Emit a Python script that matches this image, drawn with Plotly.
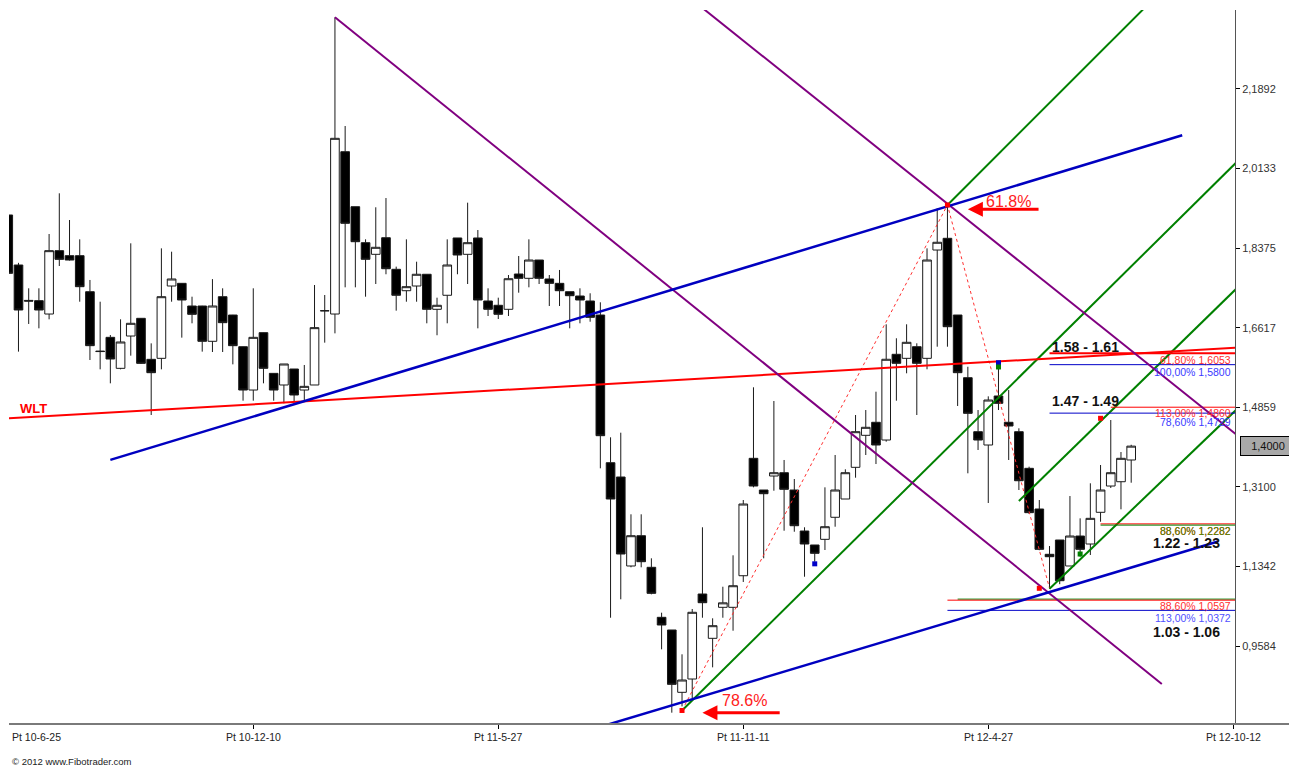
import plotly.graph_objects as go
import pandas as pd

# ---------------- data ----------------
start_date = "2010-06-25"
n_weeks = 111
dates = pd.date_range(start_date, periods=n_weeks, freq="7D")

opens = [1.9107,1.8002,1.7220,1.7214,1.6919,1.8319,1.8208,1.8208,1.7412,1.6100,
         1.6404,1.5719,1.6433,1.6824,1.5918,1.5940,1.7538,1.7597,1.7096,1.7096,
         1.6316,1.7302,1.6897,1.6197,1.5240,1.6507,1.5608,1.5351,1.5704,1.5240,
         1.5351,1.6993,1.6919,2.0505,1.9290,1.8495,1.8238,1.8605,1.7907,1.7434,
         1.7538,1.7797,1.7023,1.7333,1.8599,1.8238,1.8599,1.7207,1.7112,1.7023,
         1.7803,1.7708,1.8112,1.7693,1.7597,1.7412,1.7317,1.7207,1.6897,1.3634,
         1.3318,1.1352,1.2021,1.1323,1.0218,0.9938,0.8561,0.8855,1.0733,0.9754,
         1.0439,1.0439,1.1137,1.3731,1.3031,1.3340,1.3413,1.3031,1.2125,1.1816,
         1.1941,1.2428,1.2832,1.3532,1.4239,1.4527,1.4135,1.6029,1.5940,1.6197,
         1.5940,1.8333,1.8592,1.6897,1.5512,1.4319,1.4025,1.5108,1.4527,1.4319,
         1.3510,1.2611,1.1610,1.1926,1.1352,1.2014,1.1838,1.2538,1.3119,1.3214,
         1.3694]
highs = [1.9200,1.8050,1.7487,1.7487,1.8687,1.9586,1.8996,1.8569,1.7671,1.7191,
         1.6455,1.6802,1.8481,1.6830,1.6271,1.8370,1.8296,1.7600,1.7302,1.7100,
         1.7690,1.7487,1.6900,1.6200,1.7487,1.6510,1.5610,1.5815,1.5704,1.5793,
         1.7560,1.7339,2.3474,2.1073,1.9290,1.8569,1.9277,1.9482,1.7966,1.8569,
         1.8075,1.7797,1.7280,1.8569,1.8599,1.9379,1.8775,1.7487,1.7280,1.7781,
         1.8201,1.8569,1.8112,1.7781,1.7892,1.7412,1.7487,1.7377,1.7178,1.4195,
         1.4297,1.2494,1.2494,1.1522,1.0320,0.9938,0.9401,1.0402,1.2207,1.0196,
         1.0894,1.1588,1.2810,1.5300,1.3031,1.4997,1.3694,1.3274,1.2207,1.1816,
         1.3090,1.3804,1.3488,1.4688,1.4798,1.5203,1.6692,1.6383,1.6692,1.6272,
         1.8370,1.9255,1.9328,1.6897,1.5754,1.4798,1.5100,1.5866,1.5240,1.4394,
         1.3546,1.2810,1.1793,1.1926,1.2898,1.2405,1.3179,1.3583,1.4577,1.3870,
         1.4030]
lows = [1.7750,1.6088,1.6699,1.6603,1.6802,1.7980,1.8100,1.7191,1.5903,1.5697,
        1.5388,1.5697,1.5999,1.5815,1.4688,1.5697,1.7191,1.6397,1.6714,1.6088,
        1.6080,1.6080,1.5807,1.5004,1.5004,1.5388,1.5004,1.4946,1.4982,1.4982,
        1.5351,1.6286,1.6492,1.7509,1.7509,1.7302,1.7582,1.7797,1.6993,1.7191,
        1.7191,1.6714,1.6450,1.6714,1.7797,1.7582,1.6603,1.6875,1.6809,1.6875,
        1.7390,1.7509,1.7582,1.7096,1.7096,1.6603,1.6714,1.6749,1.3510,1.0209,
        1.0616,1.1323,1.1323,1.0726,0.9511,0.8111,0.8250,0.8428,1.0209,0.9113,
        1.0209,0.9922,1.0999,1.3090,1.1522,1.3015,1.2131,1.2109,1.1115,1.1447,
        1.1705,1.2220,1.2832,1.3303,1.3804,1.3605,1.4098,1.5004,1.5609,1.4688,
        1.5698,1.6197,1.6197,1.4887,1.3400,1.3915,1.2744,1.4798,1.3694,1.3031,
        1.2500,1.1700,1.0850,1.0950,1.1352,1.1557,1.1595,1.2330,1.3075,1.2604,
        1.3192]
closes = [1.7818,1.7008,1.7205,1.7008,1.8319,1.8127,1.8112,1.7523,1.6220,1.6090,
          1.5925,1.6301,1.6714,1.5829,1.5623,1.7302,1.7693,1.7229,1.6912,1.6316,
          1.7096,1.6728,1.6220,1.5240,1.6404,1.5719,1.5240,1.5815,1.5130,1.5321,
          1.6618,1.6990,2.0801,1.8923,1.8517,1.8128,1.8393,1.7920,1.7333,1.7523,
          1.7797,1.7023,1.7112,1.8002,1.8223,1.8495,1.7229,1.7023,1.6913,1.7699,
          1.7708,1.8112,1.7708,1.7597,1.7434,1.7324,1.7229,1.6846,1.4231,1.2832,
          1.1617,1.2021,1.1447,1.0748,1.0048,0.8737,0.8833,1.0329,1.0541,1.0033,
          1.0538,1.0916,1.2721,1.3119,1.2949,1.3413,1.3046,1.2242,1.1838,1.1632,
          1.2220,1.3031,1.3413,1.4319,1.4416,1.4025,1.5919,1.5830,1.6294,1.5830,
          1.8112,1.8504,1.6639,1.5623,1.4725,1.4135,1.5019,1.4946,1.4445,1.3236,
          1.2530,1.1720,1.1557,1.1027,1.2014,1.1720,1.2405,1.3031,1.3413,1.3731,
          1.4000]

# axis ticks
y_tickvals = [0.9584, 1.1342, 1.3100, 1.4859, 1.6617, 1.8375, 2.0133, 2.1892]
y_ticktext = ["0,9584", "1,1342", "1,3100", "1,4859", "1,6617", "1,8375", "2,0133", "2,1892"]
x_tickdates = ["2010-06-25", "2010-12-10", "2011-05-27", "2011-11-11", "2012-04-27", "2012-10-12"]
x_ticktext = ["Pt 10-6-25", "Pt 10-12-10", "Pt 11-5-27", "Pt 11-11-11", "Pt 12-4-27", "Pt 12-10-12"]

# drawn trend lines (date, price)
wlt_dates = ["2010-06-18", "2012-10-19"];           wlt_prices = [1.4600, 1.6183]
blue1_dates = ["2010-09-03", "2012-09-07"];         blue1_prices = [1.3697, 2.0868]
blue2_dates = ["2011-08-05", "2012-10-01 12:00"];   blue2_prices = [0.7799, 1.1893]
purple1_dates = ["2011-02-04", "2012-08-24"];       purple1_prices = [2.3475, 0.8744]
purple2_dates = ["2011-10-10 12:00", "2012-10-19"]; purple2_prices = [2.3771, 1.4129]
green1_dates = ["2011-09-30", "2012-10-19"];        green1_prices = [0.8160, 2.0424]
green2_dates = ["2012-03-30", "2012-08-17"];        green2_prices = [1.9328, 2.3838]
green3_dates = ["2012-05-18", "2012-10-19"];        green3_prices = [1.2786, 1.7633]
green4_dates = ["2012-06-08", "2012-10-19"];        green4_prices = [1.0848, 1.4956]
zigzag_dates = ["2011-09-30", "2012-03-30", "2012-06-08"]
zigzag_prices = [0.8160, 1.9328, 1.0860]

# fibonacci levels
level_prices = [1.6053, 1.5800, 1.4860, 1.4729, 1.2282, 1.2255, 1.0620, 1.0597, 1.0372]
level_starts = ["2012-06-08", "2012-06-08", "2012-07-20", "2012-06-08", "2012-07-13",
                "2012-07-13", "2012-04-06", "2012-03-30", "2012-03-30"]
level_colors = ["#ff0000", "#0000c8", "#ff0000", "#0000c8", "#ff0000",
                "#008000", "#008000", "#ff0000", "#0000c8"]
level_widths = [2, 1, 1, 1, 1, 1, 1, 1, 1]
level_end = "2012-10-19"

fib_label_text = ["61,80% 1,6053", "100,00% 1,5800", "113,00% 1,4860", "78,60% 1,4729",
                  "88,60% 1,2282", "88,60% 1,2282", "88,60% 1,0597", "113,00% 1,0372"]
fib_label_price = [1.6053, 1.5800, 1.4860, 1.4729, 1.2282, 1.2282, 1.0597, 1.0372]
fib_label_color = ["#ff3030", "#3a3aff", "#ff3030", "#3a3aff", "#ff3030", "#4a8a00",
                   "#ff3030", "#5050ff"]
fib_label_dy = [0, 0, 1, -2, 0, 0, 1, -1]

zone_text = ["1.58 - 1.61", "1.47 - 1.49", "1.22 - 1.23", "1.03 - 1.06"]
zone_price = [1.6201, 1.4997, 1.1871, 0.9904]

# small markers
mk_red_dates = ["2011-09-30", "2012-06-01", "2012-07-13", "2012-03-30"]
mk_red_prices = [0.8160, 1.0859, 1.4615, 1.9328]
mk_blue_dates = ["2011-12-30", "2012-05-04"]
mk_blue_prices = [1.1400, 1.5843]
mk_green_dates = ["2012-05-04", "2012-06-29"]
mk_green_prices = [1.5749, 1.1617]

last_price = 1.4000

FONT = "Liberation Sans, Arial, sans-serif"

fig = go.Figure()

fig.add_trace(go.Candlestick(
    x=dates, open=opens, high=highs, low=lows, close=closes,
    increasing=dict(line=dict(color="#1a1a1a", width=1), fillcolor="white"),
    decreasing=dict(line=dict(color="#1a1a1a", width=1), fillcolor="black"),
    whiskerwidth=0, showlegend=False, hoverinfo="skip"))


def add_line(xs, ys, color, width, dash="solid"):
    fig.add_trace(go.Scatter(x=xs, y=ys, mode="lines",
                             line=dict(color=color, width=width, dash=dash),
                             showlegend=False, hoverinfo="skip"))


add_line(zigzag_dates, zigzag_prices, "#ff3030", 1, "3px,3px")
for xs, ys in [(green1_dates, green1_prices), (green2_dates, green2_prices),
               (green3_dates, green3_prices), (green4_dates, green4_prices)]:
    add_line(xs, ys, "#008000", 2)
for p, s, c, w in zip(level_prices, level_starts, level_colors, level_widths):
    add_line([s, level_end], [p, p], c, w)
add_line(wlt_dates, wlt_prices, "#ff0000", 2)
add_line(purple1_dates, purple1_prices, "#800080", 2)
add_line(purple2_dates, purple2_prices, "#800080", 2)
add_line(blue1_dates, blue1_prices, "#0000c0", 2.5)
add_line(blue2_dates, blue2_prices, "#0000c0", 2.5)

fig.add_trace(go.Scatter(x=mk_red_dates, y=mk_red_prices, mode="markers",
                         marker=dict(color="#ff0000", size=5, symbol="square"),
                         showlegend=False, hoverinfo="skip"))
fig.add_trace(go.Scatter(x=mk_blue_dates, y=mk_blue_prices, mode="markers",
                         marker=dict(color="#0000c8", size=5, symbol="square"),
                         showlegend=False, hoverinfo="skip"))
fig.add_trace(go.Scatter(x=mk_green_dates, y=mk_green_prices, mode="markers",
                         marker=dict(color="#008000", size=5, symbol="square"),
                         showlegend=False, hoverinfo="skip"))

ann = []
# arrows
ann.append(dict(x="2012-04-13", y=1.9233, ax="2012-06-01 12:00", ay=1.9233, axref="x", ayref="y",
                xref="x", yref="y", text="", showarrow=True, arrowhead=2, arrowsize=1,
                arrowwidth=3, arrowcolor="#ff0000"))
ann.append(dict(x="2012-05-11", y=1.9409, xref="x", yref="y", text="61.8%", showarrow=False,
                font=dict(family=FONT, size=16, color="#ff2020")))
ann.append(dict(x="2011-10-14", y=0.8110, ax="2011-12-07", ay=0.8110, axref="x", ayref="y",
                xref="x", yref="y", text="", showarrow=True, arrowhead=2, arrowsize=1,
                arrowwidth=3, arrowcolor="#ff0000"))
ann.append(dict(x="2011-11-12", y=0.8391, xref="x", yref="y", text="78.6%", showarrow=False,
                font=dict(family=FONT, size=16, color="#ff2020")))
# WLT label
ann.append(dict(x="2010-07-02", y=1.4831, xref="x", yref="y", text="<b>WLT</b>", showarrow=False,
                xanchor="left", font=dict(family=FONT, size=13, color="#ff0000")))
# fib labels
for t, p, c, dy in zip(fib_label_text, fib_label_price, fib_label_color, fib_label_dy):
    ann.append(dict(x="2012-10-12", y=p, xref="x", yref="y", text=t, showarrow=False,
                    xanchor="right", yanchor="top", xshift=-1, yshift=dy, borderpad=0,
                    font=dict(family=FONT, size=10.5, color=c)))
# zone labels
for i, (t, p) in enumerate(zip(zone_text, zone_price)):
    if i < 2:
        ann.append(dict(x="2012-06-08", y=p, xref="x", yref="y", text="<b>" + t + "</b>",
                        showarrow=False, xanchor="left",
                        font=dict(family=FONT, size=14, color="#111111")))
    else:
        ann.append(dict(x="2012-10-12", y=p, xref="x", yref="y", text="<b>" + t + "</b>",
                        showarrow=False, xanchor="right", xshift=-11,
                        font=dict(family=FONT, size=14, color="#111111")))
# x tick labels (first one is left-aligned at the plot edge)
for i, (d, t) in enumerate(zip(x_tickdates, x_ticktext)):
    if i == 0:
        ann.append(dict(x=0, y=-0.018, xref="paper", yref="paper", text=t, showarrow=False,
                        xanchor="left", yanchor="middle", xshift=1,
                        font=dict(family=FONT, size=10.5, color="#222222")))
    else:
        ann.append(dict(x=d, y=-0.018, xref="x", yref="paper", text=t, showarrow=False,
                        xanchor="center", yanchor="middle",
                        font=dict(family=FONT, size=10.5, color="#222222")))
# last price box
ann.append(dict(x=1.004, y=last_price, xref="paper", yref="y", text="1,4000", showarrow=False,
                xanchor="left", yanchor="middle", bgcolor="#a8a8a8", bordercolor="#000000",
                borderwidth=1, width=52, height=16,
                font=dict(family=FONT, size=11, color="#111111")))
# copyright
ann.append(dict(x=0.0, y=-0.053, xref="paper", yref="paper", text="© 2012 www.Fibotrader.com",
                showarrow=False, xanchor="left", yanchor="middle", xshift=1,
                font=dict(family=FONT, size=9.5, color="#222222")))

# page body has an 8px margin: figure is sized/offset to compensate
fig.update_layout(
    width=1289, height=759, autosize=False,
    margin=dict(l=1, r=62, t=2, b=43),
    paper_bgcolor="white", plot_bgcolor="white",
    boxgap=0.08, boxgroupgap=0.08,
    annotations=ann,
    shapes=[dict(type="line", xref="paper", yref="paper", x0=0, x1=1.051, y0=0, y1=0,
                 line=dict(color="#7a7a7a", width=2))],
    xaxis=dict(type="date", range=["2010-06-25 12:00", "2012-10-13 04:30"],
               rangeslider=dict(visible=False), showgrid=False, zeroline=False,
               showline=False, tickvals=x_tickdates, ticktext=x_ticktext,
               showticklabels=False, ticks="outside", ticklen=4, tickcolor="#000000"),
    yaxis=dict(range=[0.7861, 2.3636], side="right", showgrid=False, zeroline=False,
               showline=True, linecolor="#555555", linewidth=1,
               tickvals=y_tickvals, ticktext=y_ticktext, ticks="outside", ticklen=4,
               tickcolor="#000000", tickfont=dict(family=FONT, size=11, color="#333333")),
)

fig.write_html("out.html")
